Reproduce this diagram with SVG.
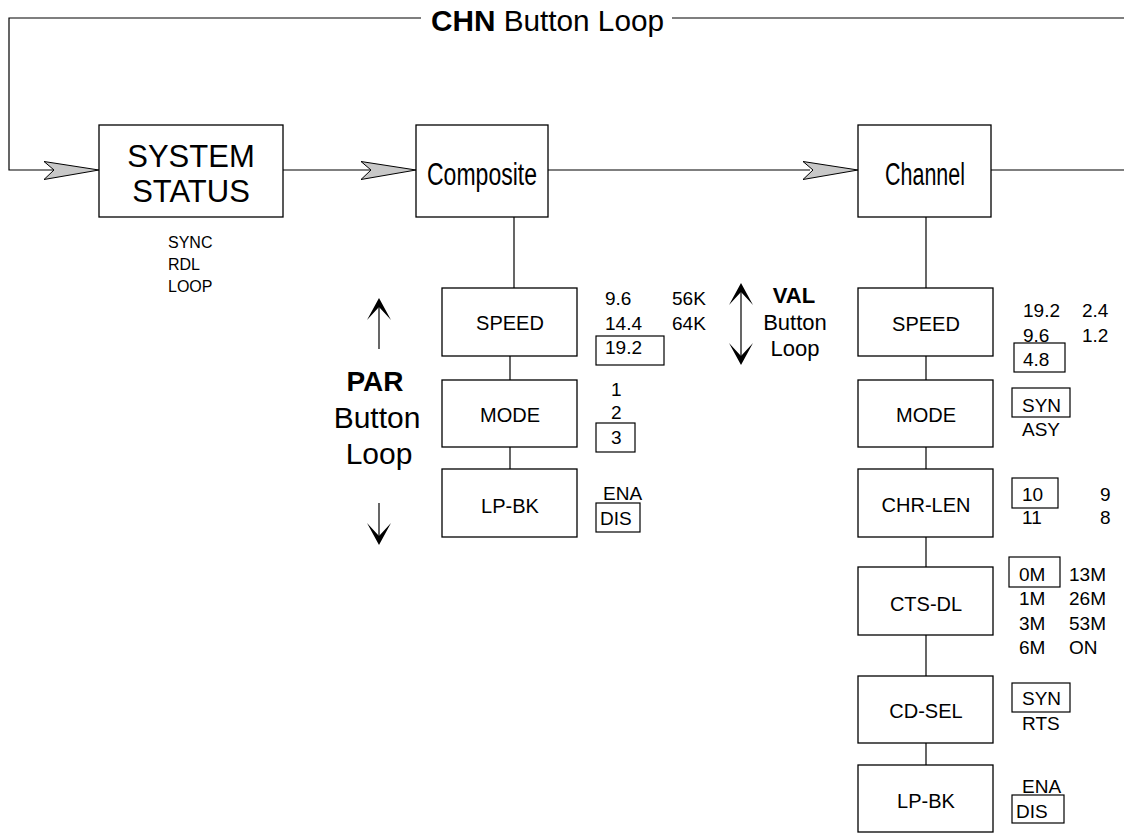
<svg xmlns="http://www.w3.org/2000/svg" width="1124" height="833" viewBox="0 0 1124 833">
<style>
text{font-family:"Liberation Sans",Arial,sans-serif;fill:#000}
.box{fill:#fff;stroke:#000;stroke-width:1.3}
.sel{fill:none;stroke:#000;stroke-width:1.2}
.ln{fill:none;stroke:#000;stroke-width:1.2}
.big{font-size:31px;text-anchor:middle}
.lbl{font-size:20px;text-anchor:middle}
.val{font-size:19px}
.loop{font-size:30px;text-anchor:middle}
.vloop{font-size:22px;text-anchor:middle}
.ah{fill:#c8c8c8;stroke:#000;stroke-width:1}
.bh{fill:#000}
</style>
<defs>
<path id="garrow" class="ah" d="M0,0 L-55,-8.5 L-45,0 L-55,9.5 Z"/>
<path id="upHead" class="bh" d="M0,0 L12,22 L0,9 L-12,22 Z"/>
</defs>
<g id="connectors">
<polyline class="ln" points="421,18 9,18 9,170 55,170"/>
<line class="ln" x1="672" y1="18" x2="1124" y2="18"/>
<line class="ln" x1="283" y1="170" x2="375" y2="170"/>
<line class="ln" x1="548" y1="170" x2="810" y2="170"/>
<line class="ln" x1="991" y1="170" x2="1124" y2="170"/>
<use href="#garrow" x="99" y="170"/>
<use href="#garrow" x="416" y="170"/>
<use href="#garrow" x="858" y="170"/>
<line class="ln" x1="514" y1="217" x2="514" y2="288"/>
<line class="ln" x1="510" y1="356" x2="510" y2="380"/>
<line class="ln" x1="510" y1="447" x2="510" y2="469"/>
<line class="ln" x1="926" y1="217" x2="926" y2="288"/>
<line class="ln" x1="926" y1="356" x2="926" y2="380"/>
<line class="ln" x1="926" y1="447" x2="926" y2="469"/>
<line class="ln" x1="926" y1="537" x2="926" y2="567"/>
<line class="ln" x1="926" y1="635" x2="926" y2="676"/>
<line class="ln" x1="926" y1="743" x2="926" y2="765"/>
</g>
<g id="chn-loop-label">
<text x="431" y="31" style="font-size:29px" textLength="233" lengthAdjust="spacingAndGlyphs"><tspan font-weight="bold">CHN</tspan> Button Loop</text>
</g>
<g id="system-status">
<rect class="box" x="99" y="125" width="184" height="92"/>
<text class="big" x="191" y="167">SYSTEM</text>
<text class="big" x="191" y="202">STATUS</text>
<text x="168" y="248" style="font-size:16px">SYNC</text>
<text x="168" y="270" style="font-size:16px">RDL</text>
<text x="168" y="292" style="font-size:16px">LOOP</text>
</g>
<g id="composite">
<rect class="box" x="416" y="125" width="132" height="92"/>
<text class="big" x="482" y="185" textLength="110" lengthAdjust="spacingAndGlyphs">Composite</text>
</g>
<g id="channel">
<rect class="box" x="858" y="125" width="133" height="92"/>
<text class="big" x="925" y="185" textLength="80" lengthAdjust="spacingAndGlyphs">Channel</text>
</g>
<g id="par-loop">
<line class="ln" x1="379" y1="305" x2="379" y2="349"/>
<use href="#upHead" x="379" y="298"/>
<line class="ln" x1="379" y1="503" x2="379" y2="538"/>
<use href="#upHead" transform="translate(379,545) rotate(180)"/>
<text x="375" y="391" font-weight="bold" style="font-size:28px;text-anchor:middle">PAR</text>
<text class="loop" x="377" y="428">Button</text>
<text class="loop" x="379" y="464">Loop</text>
</g>
<g id="val-loop">
<line class="ln" x1="741" y1="290" x2="741" y2="358"/>
<use href="#upHead" x="741" y="283"/>
<use href="#upHead" transform="translate(741,365) rotate(180)"/>
<text class="vloop" x="794" y="303" font-weight="bold">VAL</text>
<text class="vloop" x="795" y="330">Button</text>
<text class="vloop" x="795" y="356">Loop</text>
</g>
<g id="c-speed">
<rect class="box" x="442" y="288" width="135" height="68"/>
<text class="lbl" x="510" y="330">SPEED</text>
<text class="val" x="605" y="305">9.6</text>
<text class="val" x="672" y="305">56K</text>
<text class="val" x="605" y="330">14.4</text>
<text class="val" x="672" y="330">64K</text>
<rect class="sel" x="596" y="336" width="68" height="29"/>
<text class="val" x="605" y="354">19.2</text>
</g>
<g id="c-mode">
<rect class="box" x="442" y="380" width="135" height="67"/>
<text class="lbl" x="510" y="422">MODE</text>
<text class="val" x="611" y="396">1</text>
<text class="val" x="611" y="419">2</text>
<rect class="sel" x="596" y="423" width="39" height="29"/>
<text class="val" x="611" y="444">3</text>
</g>
<g id="c-lpbk">
<rect class="box" x="442" y="469" width="135" height="68"/>
<text class="lbl" x="510" y="513">LP-BK</text>
<text class="val" x="603" y="500">ENA</text>
<rect class="sel" x="596" y="503" width="44" height="29"/>
<text class="val" x="600" y="525">DIS</text>
</g>
<g id="ch-speed">
<rect class="box" x="858" y="288" width="135" height="68"/>
<text class="lbl" x="926" y="331">SPEED</text>
<text class="val" x="1023" y="317">19.2</text>
<text class="val" x="1082" y="317">2.4</text>
<text class="val" x="1023" y="342">9.6</text>
<text class="val" x="1082" y="342">1.2</text>
<rect class="sel" x="1014" y="343" width="51" height="29"/>
<text class="val" x="1023" y="366">4.8</text>
</g>
<g id="ch-mode">
<rect class="box" x="858" y="380" width="135" height="67"/>
<text class="lbl" x="926" y="422">MODE</text>
<rect class="sel" x="1012" y="388" width="58" height="29"/>
<text class="val" x="1022" y="412">SYN</text>
<text class="val" x="1022" y="436">ASY</text>
</g>
<g id="ch-chrlen">
<rect class="box" x="858" y="469" width="135" height="68"/>
<text class="lbl" x="926" y="512">CHR-LEN</text>
<rect class="sel" x="1012" y="478" width="46" height="30"/>
<text class="val" x="1022" y="501">10</text>
<text class="val" x="1100" y="501">9</text>
<text class="val" x="1022" y="524">11</text>
<text class="val" x="1100" y="524">8</text>
</g>
<g id="ch-ctsdl">
<rect class="box" x="858" y="567" width="135" height="68"/>
<text class="lbl" x="926" y="611">CTS-DL</text>
<rect class="sel" x="1009" y="557" width="51" height="30"/>
<text class="val" x="1019" y="581">0M</text>
<text class="val" x="1069" y="581">13M</text>
<text class="val" x="1019" y="605">1M</text>
<text class="val" x="1069" y="605">26M</text>
<text class="val" x="1019" y="630">3M</text>
<text class="val" x="1069" y="630">53M</text>
<text class="val" x="1019" y="654">6M</text>
<text class="val" x="1069" y="654">ON</text>
</g>
<g id="ch-cdsel">
<rect class="box" x="858" y="676" width="135" height="67"/>
<text class="lbl" x="926" y="718">CD-SEL</text>
<rect class="sel" x="1012" y="683" width="58" height="29"/>
<text class="val" x="1022" y="705">SYN</text>
<text class="val" x="1022" y="730">RTS</text>
</g>
<g id="ch-lpbk">
<rect class="box" x="858" y="765" width="135" height="67"/>
<text class="lbl" x="926" y="808">LP-BK</text>
<text class="val" x="1022" y="793">ENA</text>
<rect class="sel" x="1012" y="795" width="52" height="28"/>
<text class="val" x="1016" y="818">DIS</text>
</g>
</svg>
